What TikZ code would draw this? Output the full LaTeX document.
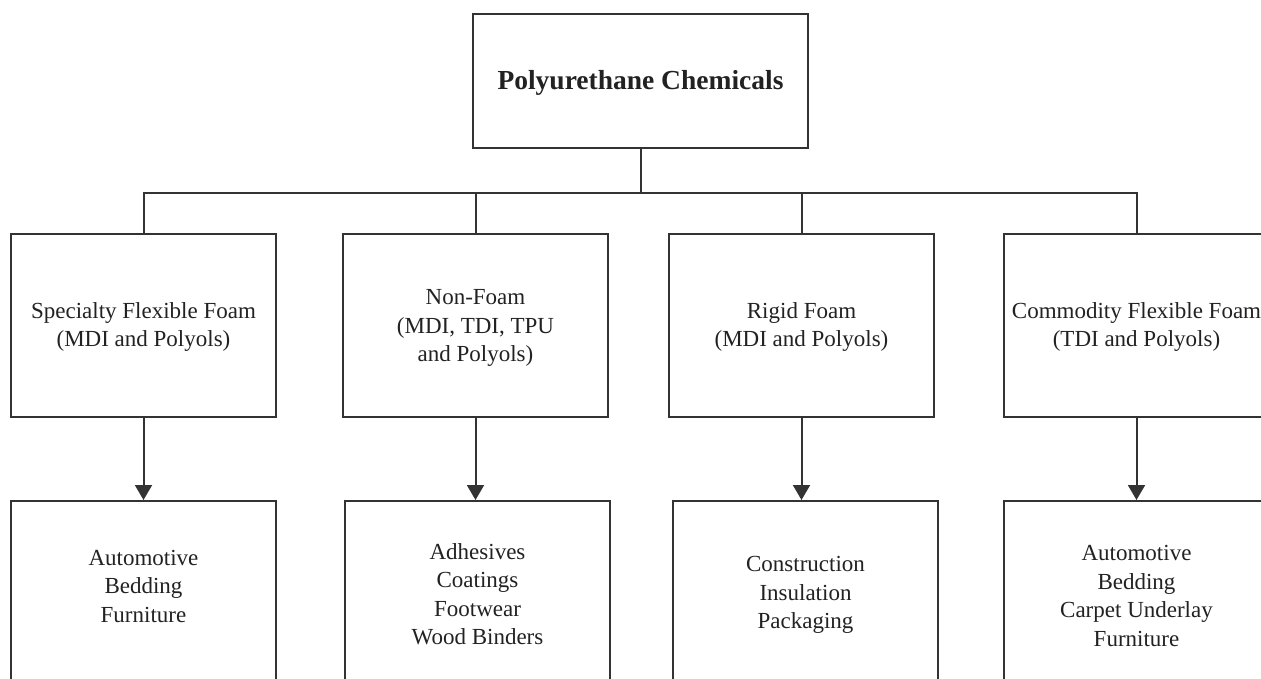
\documentclass[tikz,border=0pt]{standalone}
\usepackage{fontspec}
\setmainfont{Liberation Serif}
\usetikzlibrary{arrows.meta}
\definecolor{ink}{HTML}{333333}
\definecolor{txt}{HTML}{222222}
\tikzset{
  box/.style={draw=ink, line width=2pt, rectangle, inner sep=0pt, minimum width=265pt},
  midbox/.style={box, minimum height=183pt},
  botbox/.style={box, minimum height=219pt},
  label/.style={text=txt, align=center, font=\fontsize{23}{28.5}\selectfont, inner sep=0pt},
  link/.style={draw=ink, line width=2pt},
  arrowlink/.style={link, -{Triangle[width=17pt,length=15pt]}},
}
\begin{document}
\begin{tikzpicture}[x=1pt,y=-1pt]
\useasboundingbox (0,0) rectangle (1261,679);
\clip (0,0) rectangle (1261,679);
\fill[white] (0,0) rectangle (1261,679);
% top
\node[box, minimum width=335pt, minimum height=134pt] (top) at (640.5,81) {};
\node[label, font=\fontsize{27.5}{32}\selectfont\bfseries] (toplbl) at (640.5,83) {Polyurethane Chemicals};
% middle
\node[midbox] (m1) at (143.5,325.5) {};
\node[midbox] (m2) at (475.5,325.5) {};
\node[midbox] (m3) at (801.5,325.5) {};
\node[midbox] (m4) at (1136.5,325.5) {};
\node[label] (m1l) at (143.5,327) {Specialty Flexible Foam\\(MDI and Polyols)};
\node[label] (m2l) at (475.5,328) {Non-Foam\\(MDI, TDI, TPU\\and Polyols)};
\node[label] (m3l) at (801.5,327) {Rigid Foam\\(MDI and Polyols)};
\node[label] (m4l) at (1136.5,327) {Commodity Flexible Foam\\(TDI and Polyols)};
% bottom
\node[botbox] (b1) at (143.5,610.5) {};
\node[botbox] (b2) at (477.5,610.5) {};
\node[botbox] (b3) at (805.5,610.5) {};
\node[botbox] (b4) at (1136.5,610.5) {};
\node[label] (b1l) at (143.5,586) {Automotive\\Bedding\\Furniture};
\node[label] (b2l) at (477.5,594) {Adhesives\\Coatings\\Footwear\\Wood Binders};
\node[label] (b3l) at (805.5,595) {Construction\\Insulation\\Packaging};
\node[label] (b4l) at (1136.5,596) {Automotive\\Bedding\\Carpet Underlay\\Furniture};
% connectors
\coordinate (bus) at (640.5,193);
\draw[link] (top.south) -- (bus);
\draw[link] (m1.north) -- (m1.north |- bus) -- (m4.north |- bus) -- (m4.north);
\draw[link] (m2.north) -- (m2.north |- bus);
\draw[link] (m3.north) -- (m3.north |- bus);
\draw[arrowlink] (m1.south) -- (m1.south |- b1.north);
\draw[arrowlink] (m2.south) -- (m2.south |- b2.north);
\draw[arrowlink] (m3.south) -- (m3.south |- b3.north);
\draw[arrowlink] (m4.south) -- (m4.south |- b4.north);
\end{tikzpicture}
\end{document}
